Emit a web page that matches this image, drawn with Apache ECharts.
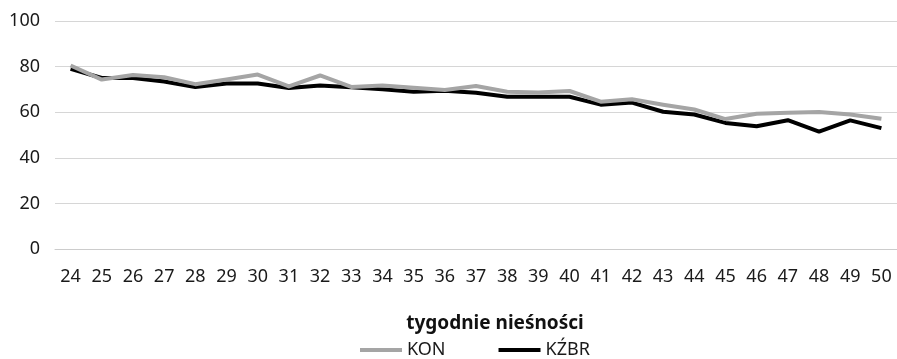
<!DOCTYPE html>
<html>
<head>
<meta charset="utf-8">
<script src="https://cdn.jsdelivr.net/npm/echarts@6/dist/echarts.min.js"></script>
<style>
  html, body { margin: 0; padding: 0; background: #fff; }
  #chart { width: 897px; height: 359px; }
</style>
</head>
<body>
<div id="chart"></div>
<script>
// Weeks of laying
const weeks = ['24','25','26','27','28','29','30','31','32','33','34','35','36','37',
               '38','39','40','41','42','43','44','45','46','47','48','49','50'];

// KON series
const kon = [80.5, 74.3, 76.3, 75.3, 72.3, 74.3, 76.5, 71.3, 76.1, 71.1, 71.7, 70.7, 69.7, 71.5,
             69.0, 68.6, 69.3, 64.6, 65.7, 63.3, 61.2, 57.0, 59.3, 59.8, 60.1, 59.0, 57.1];

// KŹBR series
const kzbr = [79.0, 75.0, 75.0, 73.5, 71.0, 72.6, 72.6, 70.6, 71.7, 70.9, 70.1, 69.0, 69.4, 68.5,
              66.8, 66.8, 66.8, 63.3, 64.2, 60.2, 59.0, 55.3, 53.8, 56.5, 51.5, 56.4, 53.0];

const yTicks = { min: 0, max: 100, interval: 20 };

const axisFont = { fontFamily: 'Noto Sans', fontSize: 18, color: '#1a1a1a' };

const chart = echarts.init(document.getElementById('chart'), null, { renderer: 'canvas' });
chart.setOption({
  animation: false,
  backgroundColor: '#ffffff',
  title: {
    text: 'tygodnie nieśności',
    left: 490,
    textAlign: 'center',
    top: 309,
    textStyle: { fontFamily: 'Noto Sans', fontSize: 19, fontWeight: 'bold', color: '#111111' }
  },
  legend: {
    data: ['KON', 'KŹBR'],
    left: 360,
    top: 341,
    padding: 0,
    icon: 'rect',
    itemWidth: 42,
    itemHeight: 4,
    itemGap: 53,
    textStyle: { fontFamily: 'Noto Sans', fontSize: 18, color: '#1a1a1a' }
  },
  grid: { left: 55, right: -2, top: 21, bottom: 110, containLabel: false },
  xAxis: {
    type: 'category',
    data: weeks,
    boundaryGap: true,
    axisLine: { show: true, lineStyle: { color: '#cccccc', width: 1 } },
    axisTick: { show: false },
    axisLabel: Object.assign({ margin: 19, interval: 0 }, axisFont),
    splitLine: { show: false }
  },
  yAxis: {
    type: 'value',
    min: yTicks.min,
    max: yTicks.max,
    interval: yTicks.interval,
    axisLine: { show: false },
    axisTick: { show: false },
    axisLabel: Object.assign({ margin: 15 }, axisFont),
    splitLine: { show: true, lineStyle: { color: '#d6d6d6', width: 1 } }
  },
  series: [
    {
      name: 'KON',
      type: 'line',
      data: kon,
      symbol: 'none',
      z: 3,
      itemStyle: { color: '#a5a5a5' },
      lineStyle: { color: '#a5a5a5', width: 4, join: 'round' }
    },
    {
      name: 'KŹBR',
      type: 'line',
      data: kzbr,
      symbol: 'none',
      z: 2,
      itemStyle: { color: '#000000' },
      lineStyle: { color: '#000000', width: 4, join: 'round' }
    }
  ]
});
</script>
</body>
</html>
